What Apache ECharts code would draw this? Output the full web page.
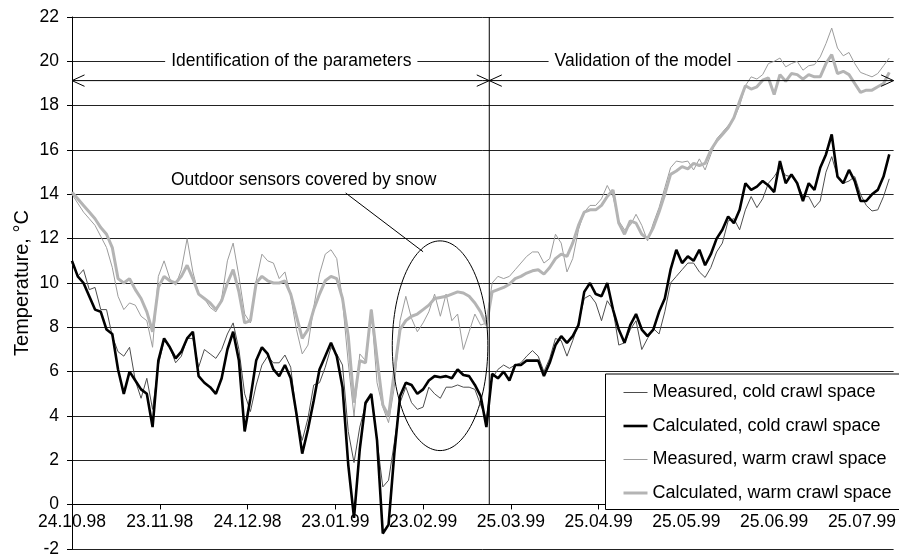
<!DOCTYPE html>
<html>
<head>
<meta charset="utf-8">
<script src="https://cdn.jsdelivr.net/npm/echarts@6/dist/echarts.min.js"></script>
<style>
  html, body { margin: 0; padding: 0; background: #fff; }
  #chart { width: 899px; height: 558px; }
</style>
</head>
<body>
<div id="chart"></div>
<script>
// days since 24.10.98, one value every DAY_STEP days
const DAY_STEP = 2;
const TICK_STEP = 30.5;
const X_MAX = 285.5;
const TICK_LABELS = ["24.10.98", "23.11.98", "24.12.98", "23.01.99", "23.02.99",
  "25.03.99", "25.04.99", "25.05.99", "25.06.99", "25.07.99"];

const SERIES_NAMES = ["Measured, cold crawl space", "Calculated, cold crawl space",
  "Measured, warm crawl space", "Calculated, warm crawl space"];

const measuredCold = [
  10.9, 10.3, 10.6, 9.7, 9.8, 8.8, 8.8, 7.6, 6.9, 6.7,
  7.1, 5.6, 4.8, 5.7, 4.3, 6.3, 7.4, 7.1, 6.4, 6.7,
  7.5, 7.5, 6.2, 7.0, 6.8, 6.6, 7.0, 7.7, 8.2, 7.0,
  5.0, 4.2, 5.4, 6.3, 6.7, 6.4, 6.4, 6.75, 6.2, 4.0,
  2.9, 3.9, 5.4, 5.5, 6.2, 7.1, 6.8, 6.3, 3.3, 1.9,
  3.5, 4.5, 4.9, 2.9, 0.8, 1.1, 2.8, 4.6, 5.3, 4.6,
  4.3, 4.4, 5.3, 5.0, 4.8, 5.3, 5.3, 5.4, 5.3, 5.3,
  5.2, 4.5, 3.9, 5.7, 6.1, 6.3, 6.15, 6.3, 6.4, 6.7,
  6.95, 6.7, 6.0, 6.6, 7.5, 7.4, 6.7, 7.4, 8.2, 9.3,
  9.45, 9.1, 8.3, 9.2, 8.8, 7.2, 7.3, 7.9, 8.3, 7.0,
  7.5, 7.95, 7.7, 8.7, 10.0, 10.3, 10.6, 10.9, 10.9, 10.5,
  10.25, 10.7, 11.4, 11.8, 12.8, 12.9, 12.4, 13.3, 13.9, 13.4,
  13.8, 14.5, 14.8, 15.2, 14.85, 14.8, 14.5, 13.9, 13.9, 13.4,
  13.7, 15.0, 15.7, 14.8, 14.5, 14.6, 14.8, 14.0, 13.5, 13.25,
  13.3, 13.9, 14.7
];

const calculatedCold = [
  11.0, 10.3, 10.0, 9.4, 8.8, 8.7, 7.9, 7.7, 6.1, 5.0,
  6.0, 5.6, 5.2, 5.0, 3.5, 6.5, 7.5, 7.1, 6.6, 6.9,
  7.5, 7.8, 5.8, 5.5, 5.3, 5.0, 5.7, 7.0, 7.8, 6.5,
  3.3, 4.8, 6.5, 7.1, 6.8, 6.1, 5.8, 6.3, 5.7, 4.1,
  2.3, 3.4, 4.7, 6.1, 6.7, 7.3, 6.7, 5.3, 1.8, -0.6,
  2.5, 4.6, 5.0, 2.9, -1.3, -0.9, 2.3, 4.9, 5.5, 5.4,
  5.0, 5.2, 5.6, 5.8, 5.75, 5.8, 5.7, 6.1, 5.85, 5.8,
  5.4, 4.9, 3.5, 5.9, 5.7, 6.0, 5.6, 6.3, 6.3, 6.5,
  6.5, 6.5, 5.8, 6.4, 7.2, 7.6, 7.3, 7.6, 8.1, 9.6,
  10.0, 9.5, 9.4, 10.0, 8.8, 7.9, 7.3, 8.1, 8.6, 7.9,
  7.6, 7.9, 8.7, 9.3, 10.6, 11.5, 10.9, 11.2, 11.0, 11.5,
  10.8, 11.3, 12.0, 12.4, 13.0, 12.7, 13.3, 14.5, 14.2, 14.35,
  14.6, 14.4, 14.1, 15.5, 14.5, 14.9, 14.5, 13.7, 14.5, 14.2,
  15.2, 15.8, 16.7, 14.8, 14.5, 15.1, 14.6, 13.7, 13.7, 14.0,
  14.2, 14.8, 15.8
];

const measuredWarm = [
  14.0, 13.6, 13.2, 12.9, 12.6, 12.1, 11.6, 10.7, 9.4, 8.8,
  9.1, 9.0, 8.5, 8.3, 7.1, 10.3, 11.0, 10.2, 9.9, 10.6,
  12.0, 10.5, 9.5, 9.3, 8.9, 8.7, 9.3, 11.0, 11.8, 10.3,
  8.6, 8.2, 10.1, 11.3, 11.0, 10.9, 10.2, 10.5, 9.4, 7.9,
  6.8, 7.2, 8.9, 10.4, 11.3, 11.5, 11.1, 9.2, 6.4, 4.0,
  6.8, 6.5, 8.8, 5.5, 4.4, 3.7, 5.3, 8.3, 9.4, 8.4,
  7.8, 8.2, 8.7, 9.5, 8.5, 9.5, 8.3, 8.6, 7.0, 7.8,
  8.6, 8.1, 8.2, 10.0, 10.3, 10.2, 10.3, 10.6, 10.9, 11.2,
  11.4, 11.4, 10.9, 11.1, 12.2, 11.8, 10.5, 11.1, 12.4, 13.2,
  13.5, 13.5, 13.8, 14.4, 13.9, 12.8, 12.4, 12.6, 13.1, 12.6,
  11.9, 12.7, 13.4, 14.3, 15.2, 15.5, 15.45, 15.5, 15.1, 15.6,
  15.1, 15.8, 16.5, 16.8, 17.1, 17.4, 18.0, 18.9, 19.3, 19.2,
  19.4, 19.9, 20.0, 20.15, 19.75, 19.9, 20.0, 19.6, 19.8, 19.85,
  20.2, 20.8, 21.5, 20.6, 20.25, 20.4, 19.9, 19.5, 19.4, 19.3,
  19.45, 19.8, 20.15
];

const calculatedWarm = [
  14.1, 13.8, 13.5, 13.2, 12.9, 12.5, 12.2, 11.6, 10.2, 10.0,
  10.2, 9.7, 9.3, 8.7, 7.8, 9.8, 10.3, 10.1, 10.0, 10.3,
  10.8, 10.2, 9.5, 9.3, 9.1, 8.8, 9.2, 10.0, 10.6, 9.6,
  8.2, 8.3, 10.0, 10.3, 10.1, 10.0, 10.0, 10.1, 9.5, 8.5,
  7.5, 7.9, 8.8, 9.5, 10.1, 10.3, 10.2, 9.3, 7.6, 4.6,
  6.5, 6.4, 8.8, 6.6, 4.5, 4.0, 6.0, 7.9, 8.3, 8.5,
  8.6, 8.8, 9.0, 9.3, 9.35, 9.4, 9.5, 9.6, 9.55, 9.4,
  9.1, 8.7, 8.1, 9.6, 9.7, 9.8, 9.95, 10.2, 10.3, 10.45,
  10.55, 10.6, 10.4, 10.7, 11.1, 11.3, 11.2, 11.8, 12.6, 13.2,
  13.3, 13.3, 13.5, 13.9, 14.2, 12.7, 12.2, 12.8, 12.7, 12.2,
  12.0, 12.5, 13.2, 14.0, 14.9, 15.05, 15.25, 15.15, 15.4, 15.3,
  15.4, 16.0, 16.4, 16.7, 17.0, 17.45, 18.2, 18.9, 18.75, 18.85,
  19.15, 19.25, 18.5, 19.4, 19.1, 19.45, 19.4, 19.2, 19.4, 19.3,
  19.3, 19.9, 20.3, 19.45, 19.55, 19.4, 19.0, 18.6, 18.7, 18.7,
  18.85, 19.0, 19.5
];

// annotation anchors, in data units (day, °C)
const SPLIT_DAY = 145;
const ARROW_TEMP = 19.13;
const LABEL_IDENT = { day: 76.2, temp: 20, text: "Identification of the parameters" };
const LABEL_VALID = { day: 198.4, temp: 20, text: "Validation of the model" };
const LABEL_SNOW = { day: 80.5, temp: 14.64, text: "Outdoor sensors covered by snow" };
const SNOW_LEADER = [[95.1, 14.06], [122.0, 11.41]];
const SNOW_ELLIPSE = { day: 127.9, temp: 7.17, rDay: 16.6, rTemp: 4.73 };

const Y_MIN = -2, Y_MAX = 22;
const FONT = "'Liberation Sans', Arial, sans-serif";

// line look per series, same order as SERIES_NAMES
const LINE_COLORS = ["#4d4d4d", "#000", "#9c9c9c", "#b4b4b4"];
const LINE_WIDTHS = [1, 2.6, 1, 3];

const chart = echarts.init(document.getElementById("chart"));
const GRID = { left: 72, right: 1, top: 17, bottom: 6 };
// the date axis sits on the 0 line, not at the bottom of the plot
const plotH = 558 - GRID.top - GRID.bottom;
const zeroOffset = -plotH * (0 - Y_MIN) / (Y_MAX - Y_MIN);

function toPairs(values) {
  return values.map((v, i) => [i * DAY_STEP, v]);
}

function makeLine(i, values) {
  return {
    name: SERIES_NAMES[i],
    type: "line",
    data: toPairs(values),
    symbol: "none",
    smooth: false,
    lineStyle: { color: LINE_COLORS[i], width: LINE_WIDTHS[i] },
    itemStyle: { color: LINE_COLORS[i] },
  };
}

chart.setOption({
  animation: false,
  textStyle: { fontFamily: FONT },
  grid: GRID,
  legend: {
    orient: "vertical",
    left: 605.5,
    top: 374,
    padding: [9.5, 14, 7.5, 16.5],
    itemWidth: 24,
    itemHeight: 14,
    itemGap: 15.5,
    backgroundColor: "#fff",
    borderColor: "#000",
    borderWidth: 1,
    borderRadius: 0,
    itemStyle: { opacity: 0, borderWidth: 0 },
    textStyle: { color: "#000", fontSize: 18, fontFamily: FONT, lineHeight: 18 },
    data: SERIES_NAMES.map((name, i) => ({
      name: name,
      lineStyle: { color: LINE_COLORS[i], width: LINE_WIDTHS[i] },
    })),
  },
  xAxis: {
    type: "value",
    min: 0,
    max: X_MAX,
    interval: TICK_STEP,
    position: "bottom",
    offset: zeroOffset,
    axisLine: { show: true, onZero: false, lineStyle: { color: "#000", width: 1 } },
    axisTick: { show: true, length: 5, lineStyle: { color: "#000" } },
    splitLine: { show: false },
    axisLabel: {
      color: "#000",
      fontSize: 17.5,
      fontFamily: FONT,
      margin: 9,
      formatter: (v) => {
        const k = Math.round(v / TICK_STEP);
        return Math.abs(v - k * TICK_STEP) < 0.01 && TICK_LABELS[k] ? TICK_LABELS[k] : "";
      },
    },
  },
  yAxis: {
    type: "value",
    min: Y_MIN,
    max: Y_MAX,
    interval: 2,
    name: "Temperature, °C",
    nameLocation: "middle",
    nameGap: 40,
    nameMoveOverlap: false,
    nameTextStyle: { color: "#000", fontSize: 20, fontFamily: FONT },
    axisLine: { show: true, lineStyle: { color: "#000", width: 1 } },
    axisTick: { show: true, length: 5, lineStyle: { color: "#000" } },
    splitLine: { show: true, lineStyle: { color: "#222", width: 1 } },
    axisLabel: { color: "#000", fontSize: 17.5, fontFamily: FONT, margin: 13 },
  },
  series: [
    makeLine(0, measuredCold),
    makeLine(1, calculatedCold),
    makeLine(2, measuredWarm),
    makeLine(3, calculatedWarm),
  ],
});

// annotations: placed from data coords through the axes
const px = (d, t) => chart.convertToPixel({ gridIndex: 0 }, [d, t]);
const stroke = { stroke: "#000", lineWidth: 1, fill: "none" };
const AL = 12.5, AW = 5.7;

const pL = px(0, ARROW_TEMP), pS = px(SPLIT_DAY, ARROW_TEMP), pR = px(X_MAX, ARROW_TEMP);
const vTop = px(SPLIT_DAY, Y_MAX), vBot = px(SPLIT_DAY, 0);
const leadA = px(SNOW_LEADER[0][0], SNOW_LEADER[0][1]);
const leadB = px(SNOW_LEADER[1][0], SNOW_LEADER[1][1]);
const eC = px(SNOW_ELLIPSE.day, SNOW_ELLIPSE.temp);
const eR = px(SNOW_ELLIPSE.day + SNOW_ELLIPSE.rDay, SNOW_ELLIPSE.temp + SNOW_ELLIPSE.rTemp);

function arrowHead(tip, dir) {
  return {
    type: "polyline",
    z: 100,
    shape: { points: [[tip[0] - dir * AL, tip[1] - AW], [tip[0], tip[1]], [tip[0] - dir * AL, tip[1] + AW]] },
    style: stroke,
  };
}

function label(l, bg) {
  const p = px(l.day, l.temp);
  return {
    type: "text",
    z: 101,
    x: p[0],
    y: p[1],
    style: {
      text: l.text,
      fill: "#000",
      fontSize: 17.5,
      fontFamily: FONT,
      align: "center",
      verticalAlign: "middle",
      textAlign: "center",
      textVerticalAlign: "middle",
      backgroundColor: bg ? "#fff" : null,
      padding: bg ? [1, 6] : 0,
    },
  };
}

chart.setOption({
  graphic: [
    { type: "line", z: 100, shape: { x1: vTop[0], y1: vTop[1], x2: vBot[0], y2: vBot[1] }, style: stroke },
    { type: "line", z: 100, shape: { x1: pL[0], y1: pL[1], x2: pR[0], y2: pR[1] }, style: stroke },
    arrowHead(pL, -1),
    arrowHead(pS, 1),
    arrowHead(pS, -1),
    arrowHead(pR, 1),
    label(LABEL_IDENT, true),
    label(LABEL_VALID, true),
    label(LABEL_SNOW, false),
    { type: "line", z: 100, shape: { x1: leadA[0], y1: leadA[1], x2: leadB[0], y2: leadB[1] }, style: stroke },
    {
      type: "ellipse",
      z: 100,
      shape: { cx: eC[0], cy: eC[1], rx: Math.abs(eR[0] - eC[0]), ry: Math.abs(eR[1] - eC[1]) },
      style: stroke,
    },
  ],
});
</script>
</body>
</html>
